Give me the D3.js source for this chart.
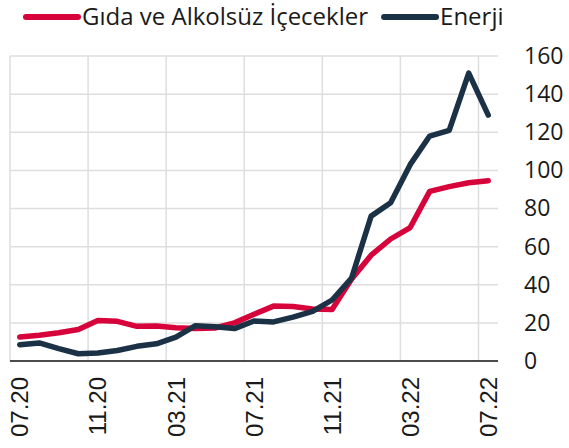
<!DOCTYPE html>
<html lang="tr">
<head>
<meta charset="UTF-8">
<title>Gıda ve Enerji</title>
<script src="https://d3js.org/d3.v7.min.js"></script>
<style>
  body { margin: 0; background: #fff; }
  svg text { font-family: "Open Sans", sans-serif; fill: #1a1a1a; }
  .xlab text { font-family: "Liberation Sans", Arial, sans-serif; }
</style>
</head>
<body>
<svg id="main" width="569" height="448"></svg>
<script>
// monthly data, 07.20 - 07.22
const months = ["07.20","08.20","09.20","10.20","11.20","12.20","01.21","02.21","03.21","04.21","05.21","06.21",
                "07.21","08.21","09.21","10.21","11.21","12.21","01.22","02.22","03.22","04.22","05.22","06.22","07.22"];
const gida   = [12.6, 13.5, 14.8, 16.5, 21.3, 20.8, 18.2, 18.4, 17.5, 17, 17.3, 20,
                24.5, 28.8, 28.6, 27.3, 27, 43, 55.5, 64, 70, 89, 91.5, 93.5, 94.5];
const enerji = [8.5, 9.5, 6.5, 3.8, 4.2, 5.5, 7.7, 9, 12.5, 18.5, 18, 17,
                21, 20.5, 23, 26, 32, 43.5, 76, 83, 103, 118, 121, 151, 129];
const yTicks = [0, 20, 40, 60, 80, 100, 120, 140, 160];
const xTickMonths = ["07.20","11.20","03.21","07.21","11.21","03.22","07.22"];

const series = [
  {name: "Gıda ve Alkolsüz İçecekler", values: gida, color: "#d7043b"},
  {name: "Enerji", values: enerji, color: "#1b3146"}
];

const svg = d3.select("#main");
const m = {left: 10, right: 498, top: 56, bottom: 361};

const x = d3.scaleLinear().domain([0, months.length]).range([m.left, m.right]);
const y = d3.scaleLinear().domain([0, 160]).range([m.bottom, m.top]);
const xm = i => x(i + 0.5);

// grid
const grid = svg.append("g");
grid.selectAll("line.h").data(yTicks.filter(d => d > 0)).join("line")
  .attr("class", "h")
  .attr("x1", m.left).attr("x2", m.right)
  .attr("y1", d => y(d)).attr("y2", d => y(d))
  .attr("stroke", "#dedede").attr("stroke-width", 1.5);
grid.selectAll("line.v").data(xTickMonths).join("line")
  .attr("class", "v")
  .attr("x1", d => x(months.indexOf(d))).attr("x2", d => x(months.indexOf(d)))
  .attr("y1", m.top).attr("y2", m.bottom)
  .attr("stroke", "#dedede").attr("stroke-width", 1.5);

// baseline
svg.append("line")
  .attr("x1", m.left).attr("x2", m.right).attr("y1", y(0)).attr("y2", y(0))
  .attr("stroke", "#111").attr("stroke-width", 1.3);

// right axis
const yAxis = svg.append("g")
  .attr("transform", `translate(${m.right},0)`)
  .call(d3.axisRight(y).tickValues(yTicks).tickSize(0).tickPadding(26));
yAxis.select(".domain").remove();
yAxis.selectAll("text").attr("font-size", 23).attr("font-family", "Open Sans, sans-serif").attr("fill", "#1a1a1a");

// x labels
const xl = svg.append("g").attr("class", "xlab");
xl.selectAll("text").data(xTickMonths).join("text")
  .attr("transform", d => `translate(${xm(months.indexOf(d))},377) rotate(-90)`)
  .attr("text-anchor", "end")
  .attr("dy", "0.36em")
  .attr("font-size", 24)
  .text(d => d);

// lines
const line = d3.line().x((d, i) => xm(i)).y(d => y(d));
svg.selectAll("path.series").data(series).join("path")
  .attr("class", "series")
  .attr("d", d => line(d.values))
  .attr("fill", "none")
  .attr("stroke", d => d.color)
  .attr("stroke-width", 5.5)
  .attr("stroke-linejoin", "round")
  .attr("stroke-linecap", "round");

// legend
const legend = svg.append("g").attr("transform", "translate(0,17)");
let lx = 26;
series.forEach(s => {
  legend.append("line")
    .attr("x1", lx).attr("x2", lx + 52).attr("y1", 0).attr("y2", 0)
    .attr("stroke", s.color).attr("stroke-width", 6).attr("stroke-linecap", "round");
  const t = legend.append("text")
    .attr("x", lx + 56).attr("y", 0).attr("dy", "0.35em")
    .attr("font-size", 24)
    .text(s.name);
  lx += 56 + t.node().getComputedTextLength() + 16;
});
</script>
</body>
</html>
